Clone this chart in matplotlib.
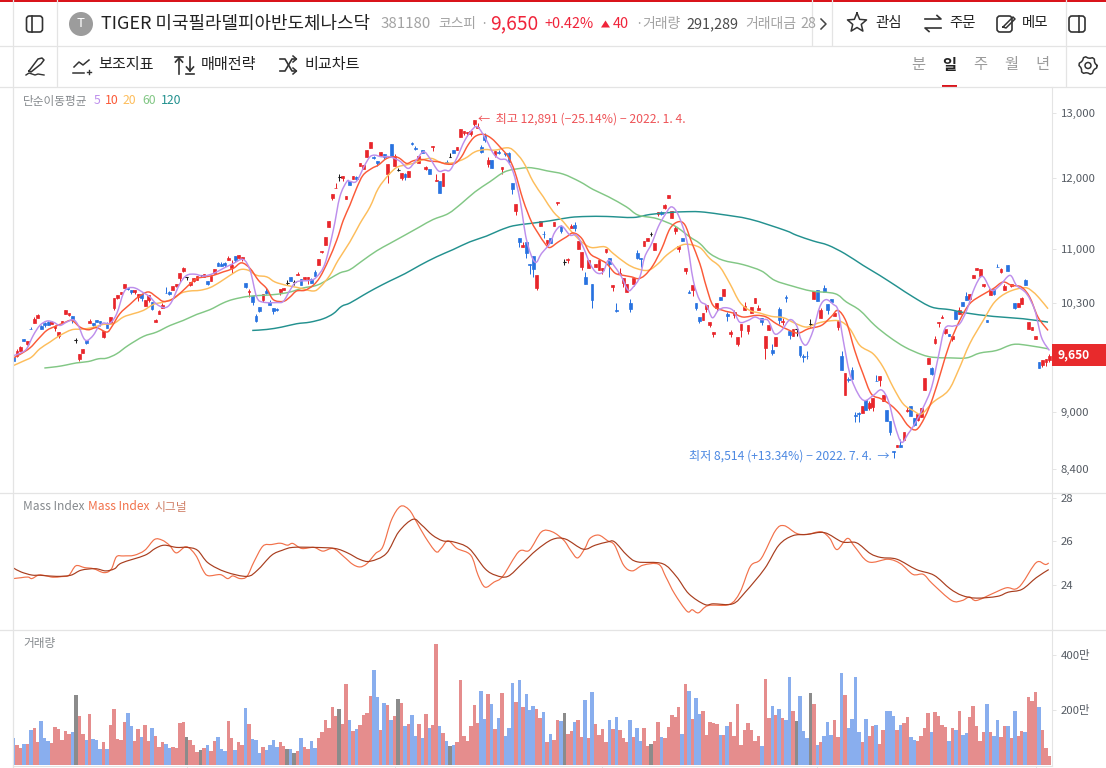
"""Daily candle chart of TIGER ETF with moving averages, Mass Index and volume panes."""
import numpy as np
import matplotlib
matplotlib.use("Agg")
import matplotlib.pyplot as plt
from matplotlib.patches import Circle, Rectangle, FancyBboxPatch, Polygon, PathPatch
from matplotlib.path import Path

plt.rcParams["font.family"] = ["Noto Sans CJK JP", "DejaVu Sans"]

# candles, 300 daily bars, won
opens = [9630,9640,9710,9845,9790,9975,10045,10105,10010,10050,
10060,10035,9985,9880,10050,10155,10145,10125,9840,9605,
9680,9840,10045,10045,10085,10075,9870,10045,10050,10225,
10360,10405,10485,10490,10455,10430,10370,10405,10255,10330,
10310,10055,10160,10235,10425,10435,10465,10515,10610,10705,
10625,10530,10570,10595,10655,10630,10575,10575,10680,10810,
10800,10810,10850,10740,10900,10880,10860,10550,10430,10385,
10125,10250,10330,10450,10310,10235,10215,10440,10465,10555,
10630,10565,10655,10605,10600,10600,10600,10700,10780,10955,
11060,11300,11710,11855,12015,12000,11695,11965,11995,12015,
12180,12130,12310,12450,12315,12255,12330,12360,12060,12515,
12180,12120,12010,12060,12015,12530,12450,12220,12430,12130,
12130,12470,11955,11955,11880,12245,12320,12425,12430,12630,
12690,12680,12670,12820,12760,12470,12635,12210,12270,12350,
12400,12130,12380,12370,11925,11530,11145,11025,11090,10805,
10900,10490,11315,11210,11075,11145,11315,11635,11310,10820,
10850,11290,11335,10995,10765,10630,10750,10535,10760,10715,
10715,10955,10885,10500,10210,10665,10550,10440,10300,10535,
10940,10885,11040,11110,11205,10985,11480,11505,11570,11710,
11430,11245,11005,11150,10705,10430,10455,10290,10115,10085,
10220,10020,9910,10235,10370,10385,10160,9910,10140,9785,
9955,10200,9945,10165,10295,10200,10110,9745,9955,9720,
9770,10220,10060,10375,9945,9890,9965,9770,9640,9650,
10030,10340,10455,10110,10490,10285,10345,10125,10000,9640,
9190,9380,9485,8975,8995,8990,9140,9045,9055,9355,
9360,9130,9030,8900,8580,8620,8645,8700,9010,9065,
8935,8920,8945,9255,9555,9500,9800,10045,10110,9925,
9905,9845,10195,10150,10305,10380,10350,10615,10715,10645,
10510,10085,10400,10470,10765,10695,10465,10785,10510,10295,
10240,10280,10585,9975,9955,9845,9580,9545,9580,9600]
closes = [9590,9710,9750,9825,9830,9970,10095,10140,9975,10015,
10015,10055,10005,9930,10075,10200,10170,10080,9840,9670,
9730,9805,10075,10025,10060,10050,9945,9980,10120,10360,
10400,10430,10540,10470,10440,10465,10415,10360,10330,10400,
10220,10080,10190,10275,10420,10405,10515,10540,10685,10745,
10625,10565,10610,10640,10655,10665,10540,10635,10735,10770,
10770,10785,10880,10780,10850,10920,10895,10500,10450,10310,
10075,10195,10415,10425,10275,10195,10205,10470,10490,10555,
10570,10565,10665,10525,10630,10630,10555,10640,10860,10980,
11165,11385,11770,11860,12015,12030,11745,11900,12030,11995,
12220,12195,12420,12550,12300,12220,12390,12310,12210,12310,
12330,12120,12080,12015,12105,12520,12445,12330,12380,12170,
12060,12480,11980,11790,12075,12230,12320,12385,12470,12750,
12720,12705,12710,12890,12780,12395,12575,12270,12150,12405,
12385,12160,12360,12240,11835,11625,11100,11060,10945,10785,
10730,10650,11385,11200,11120,11075,11375,11660,11245,10820,
10865,11320,11285,11105,10955,10535,10850,10335,10795,10850,
10740,10995,10795,10525,10195,10680,10620,10535,10220,10620,
10880,10870,11105,11155,11205,11075,11505,11490,11610,11755,
11525,11285,11040,11110,10740,10420,10525,10235,10075,10170,
10270,10060,9935,10295,10330,10475,10125,9930,10180,9870,
10030,10260,10015,10245,10355,10235,10055,9880,10015,9680,
9870,10085,10075,10360,9900,9975,9965,9655,9630,9640,
10030,10445,10320,10200,10440,10210,10305,10170,10065,9475,
9450,9370,9380,8960,8985,9065,9025,9100,9155,9350,
9410,9195,8910,8780,8575,8645,8620,8785,9030,8965,
8865,8980,9045,9390,9620,9440,9850,10060,10115,9975,
9880,9885,10095,10200,10260,10330,10415,10660,10750,10730,
10540,10055,10475,10415,10755,10730,10510,10710,10540,10230,
10300,10360,10530,10055,10000,9880,9505,9600,9610,9650]
highs = [9640,9730,9770,9850,9830,9995,10115,10150,10015,10060,
10070,10065,10015,9930,10075,10200,10170,10125,9855,9670,
9730,9840,10095,10045,10085,10075,9945,10060,10120,10360,
10400,10430,10540,10490,10455,10465,10415,10405,10330,10400,
10310,10090,10200,10295,10495,10445,10515,10540,10685,10760,
10625,10565,10610,10640,10655,10665,10575,10635,10735,10830,
10830,10820,10905,10850,10900,10920,10895,10550,10470,10385,
10150,10250,10415,10490,10330,10235,10225,10470,10490,10585,
10630,10595,10690,10605,10630,10630,10615,10715,10860,10980,
11165,11385,11770,11925,12060,12030,11745,11965,12030,12040,
12220,12195,12430,12550,12330,12255,12400,12360,12210,12515,
12360,12155,12080,12080,12105,12550,12480,12330,12430,12185,
12130,12480,12060,11955,12075,12270,12380,12425,12470,12750,
12720,12705,12710,12891,12835,12495,12680,12310,12270,12405,
12420,12160,12385,12395,11925,11625,11145,11100,11090,10805,
10900,10650,11385,11245,11120,11150,11375,11660,11325,10860,
10880,11345,11365,11105,10955,10700,10850,10535,10795,10850,
10740,10995,10885,10525,10290,10740,10620,10535,10340,10620,
10985,10885,11105,11155,11230,11075,11505,11525,11625,11755,
11525,11310,11040,11150,10740,10465,10525,10290,10115,10170,
10270,10060,9935,10295,10370,10475,10175,9960,10210,9870,
10030,10305,10015,10245,10355,10270,10110,9880,10015,9785,
9870,10240,10110,10390,9945,9975,9965,9770,9670,9700,
10095,10445,10455,10235,10520,10285,10345,10170,10065,9700,
9450,9405,9520,9000,9000,9065,9140,9130,9155,9420,
9410,9195,9030,8900,8580,8645,8715,8785,9060,9065,
8935,8980,9045,9390,9620,9510,9890,10060,10145,9975,
9905,9885,10195,10240,10305,10435,10415,10660,10750,10730,
10540,10085,10475,10470,10805,10750,10540,10785,10540,10295,
10300,10370,10605,10055,10000,9880,9580,9600,9610,9670]
lows = [9585,9630,9710,9825,9775,9970,10045,10105,9975,10000,
10015,10035,9945,9860,10050,10155,10125,10045,9805,9590,
9680,9785,10045,10010,10060,10010,9855,9980,10050,10210,
10350,10405,10485,10455,10405,10415,10320,10320,10255,10310,
10200,10055,10160,10235,10420,10395,10455,10495,10560,10695,
10585,10515,10560,10585,10625,10630,10520,10575,10670,10770,
10770,10765,10850,10680,10830,10880,10840,10490,10370,10275,
10055,10175,10310,10405,10275,10160,10195,10400,10465,10530,
10570,10525,10655,10525,10600,10540,10555,10640,10780,10945,
11060,11300,11680,11855,11965,11960,11695,11900,11995,11970,
12180,12130,12310,12450,12280,12180,12330,12280,11930,12310,
12180,12105,11970,11975,12015,12500,12425,12220,12380,12115,
12060,12410,11955,11790,11880,12220,12320,12385,12430,12630,
12650,12640,12640,12795,12760,12380,12550,12170,12150,12310,
12360,12060,12330,12240,11765,11465,11030,11025,10875,10665,
10630,10455,11315,11145,11050,11075,11315,11610,11220,10785,
10815,11290,11245,10995,10715,10535,10750,10235,10760,10715,
10665,10945,10630,10450,10180,10650,10500,10440,10180,10510,
10860,10760,11040,11110,11175,10985,11460,11465,11550,11710,
11430,11210,10955,11110,10665,10420,10385,10210,10050,10085,
10180,10000,9875,10190,10330,10385,10075,9875,10110,9770,
9875,10200,9910,10165,10295,10200,10015,9615,9955,9655,
9770,10030,10015,10310,9850,9890,9890,9635,9575,9615,
10000,10340,10320,10110,10440,10150,10305,10125,9955,9475,
9190,9340,9380,8890,8890,8990,9025,9025,9010,9350,
9295,9130,8900,8755,8514,8620,8620,8700,9000,8965,
8850,8900,8945,9255,9555,9420,9785,10000,10110,9905,
9880,9825,10095,10150,10260,10330,10350,10615,10715,10630,
10495,10055,10400,10390,10755,10675,10465,10710,10495,10220,
10240,10280,10530,9975,9955,9845,9505,9520,9530,9580]

# volume in units of 만 shares
volumes = [98,72,62,76,76,126,135,84,160,98,
86,80,138,131,91,124,113,120,255,177,
113,91,185,95,91,58,84,58,145,204,
95,91,156,189,142,87,131,102,145,87,
135,105,65,84,76,62,65,62,153,156,
102,91,73,47,55,62,73,51,87,102,
58,51,160,98,55,84,73,207,149,95,
91,44,65,55,73,91,65,84,69,58,
58,44,51,98,65,58,87,62,98,120,
164,135,211,178,204,149,295,164,124,131,
145,182,189,251,345,247,127,225,218,164,
178,240,225,142,149,182,105,149,98,185,
135,145,440,142,116,87,69,73,84,309,
105,87,142,218,153,269,167,258,222,131,
171,262,105,135,298,229,309,211,258,200,
215,204,171,193,84,113,90,164,160,189,
113,124,156,164,102,236,98,265,149,109,
131,84,164,131,175,127,98,84,164,102,
135,87,135,69,76,87,156,102,98,138,
182,175,211,113,295,269,167,244,185,196,
109,156,153,149,109,109,142,156,105,222,
73,127,153,127,87,105,69,313,171,215,
182,204,171,164,320,196,160,251,124,98,
262,222,73,84,105,156,109,164,102,335,
255,135,167,320,120,84,167,105,142,145,
76,127,196,196,178,127,145,153,175,102,
91,87,105,135,189,120,193,178,145,138,
87,135,127,196,109,116,175,215,142,87,
120,222,120,105,164,102,142,142,98,196,
105,124,120,247,233,265,211,127,62,33]

# moving averages, read at bar positions
ma5_x = [0,1.9,3.8,5.7,7.6,9.6,11.5,13.4,15.3,17.3,18.7,20.2,21.3,23,24.5,25.9,27.9,29.8,31.7,33.1,35.1,37.5,39.4,41.3,43.7,45.6,48,50,52.4,54.8,57.7,60.5,63.4,66.3,68.3,70.2,72.1,76,77.9,79.8,81.7,85.6,87.5,89.9,92.3,94.2,96.2,
97.1,99,101.4,102.9,104.3,106.2,108.6,111.5,113.9,115.9,118.3,120.2,122.6,124.5,126,127.9,130.3,132.7,134.1,136.5,138.5,140.4,142.3,144.2,146.2,148.1,150.5,152.4,154.8,156.3,158.2,160.6,162.5,164.4,166.4,168.3,170.2,171.7,173.6,175.5,177.4,178.9,180.8,182.2,184.2,186.1,188,189.9,191.9,194.3,196.2,198.1,
200,201.7,203.4,205.3,207.7,209.6,212,214,215.9,217.8,219.7,221.7,224.1,226,227.4,228.9,230.8,232.7,234.5,236.6,238,239.5,241.4,243.8,245.7,248.1,250.5,252.5,254.4,256.3,258.2,260.1,262.6,265,266.9,268.8,271.2,273.1,275.1,277.5,279.7,282.3,284.7,287.6,289.5,292.4,294.8,296.7,299]
ma5 = [9650,9678,9731,9892,10014,10068,10055,10014,10055,10084,10014,9863,9831,9892,9994,10043,10043,10160,10415,10485,10485,10425,10370,10280,10235,10305,10540,10650,10665,10640,10675,10740,10805,10860,10716,10370,10305,10300,10315,10456,10565,10585,10630,10805,11257,11730,11950,
11955,11955,12195,12320,12345,12320,12320,12255,12145,12245,12395,12295,12110,12120,12120,12295,12575,12755,12775,12575,12370,12285,12270,12095,11681,11120,10825,10940,11075,11235,11315,11190,11190,11030,10805,10685,10695,10849,10760,10630,10456,10500,10630,10895,11075,11305,11468,11585,11468,11120,10585,10328,
10265,10110,10201,10235,10201,10055,10076,10118,10085,10076,9912,9953,10085,10015,9831,9780,9953,10243,10337,10277,10201,9831,9437,9206,9131,9187,9252,9131,8855,8675,8765,8873,9056,9282,9630,9973,10006,10035,10201,10499,10637,10456,10520,10650,10520,10413,10201,9870,9711]

ma10_x = [0,1.9,4.8,7.2,9.6,12,14.4,16.8,19.2,21.6,24,26.9,28.3,30.7,33.6,36,38.9,41.3,43.2,45.6,48.5,50.5,52.9,55.3,57.7,60.5,63.4,65.8,68.3,70.7,73.1,75,77.9,79.8,81.7,84.1,86.5,88.5,90.9,93.3,95.2,97.1,
99,100.9,103.4,105.3,107.7,110.1,111.5,113.5,115.4,117.8,120.2,122.6,125,127.4,129.3,131.2,133.2,135.6,138,140.4,142.8,144.7,147.1,149.5,151.5,153.4,154.8,157.2,159.6,161.6,164,166.4,168.8,171.2,173.6,176,178.4,180.3,182.2,184.6,187.1,189.5,191.9,193.8,195.7,198.1,
200,201.9,204.8,207.7,210.6,214.5,217.3,220.2,223.6,226.5,229.4,233.2,236.1,238,240.4,242.8,245.2,247.6,250.5,253.4,255.8,258.2,260.6,263,265.4,267.8,270.2,273.1,276,279.4,282.8,285.6,288.1,290.9,293.3,295.7,298.6]
ma10 = [9624,9665,9743,9851,9953,10002,10043,10076,9994,9961,9986,9933,9994,10160,10277,10370,10435,10370,10315,10336,10435,10520,10607,10630,10650,10695,10740,10815,10740,10585,10477,10336,10315,10370,10447,10456,10520,10630,10849,11120,11397,11610,
11850,12045,12145,12195,12295,12320,12295,12220,12260,12280,12255,12245,12210,12220,12320,12500,12630,12665,12600,12470,12320,12095,11681,11375,11210,11075,11020,11095,11165,11220,11145,10940,10870,10805,10680,10650,10630,10607,10650,10782,11005,11280,11375,11330,11095,10805,
10499,10265,10201,10168,10118,10139,10118,10035,9961,9920,9973,10015,10126,10201,10055,9711,9437,9206,9150,9075,8982,8855,8811,8945,9168,9475,9791,10076,10285,10392,10477,10563,10520,10499,10370,10118,9953]

ma20_x = [0,2.8,5.2,7.6,10.5,13.4,16.8,19.7,22.6,25.9,28.8,31.7,34.6,37.5,40.4,43.2,46.1,48.5,50.9,53.8,56.7,59.6,62.5,65.4,67.8,70.2,73.1,75.5,78.8,82.2,86.5,88.5,91.3,93.7,97.1,
100,102.9,105.3,108.2,110.6,113,115.4,117.8,120.7,123.6,126.9,130.3,133.2,136.1,139,142.3,144.2,147.1,150,152.9,155.8,158.7,161.1,164,166.8,170.7,173.1,176.9,179.8,183.2,186.1,188.5,191.9,194.3,198.1,
201,203.9,206.8,209.6,212.5,215.4,218.8,222.2,225.5,228.9,232.2,235.1,238.5,241.4,244.3,248.1,251,253.9,256.8,259.7,262.1,265.4,269.8,272.7,276,279.9,283.2,287.1,291.9,294.3,296.2,298.6]
ma20 = [9533,9584,9632,9731,9811,9892,9961,9969,9986,10027,10035,10118,10160,10201,10277,10305,10349,10422,10447,10456,10490,10563,10650,10725,10716,10650,10630,10563,10520,10490,10447,10499,10650,10849,11097,
11350,11585,11850,12045,12160,12195,12220,12270,12295,12230,12230,12295,12395,12430,12421,12457,12421,12245,11948,11730,11515,11375,11235,11097,11020,11030,10940,10805,10740,10716,10805,10917,11030,11065,11020,
10871,10760,10540,10307,10201,10168,10126,10110,10043,9994,10043,10068,10068,9973,9771,9672,9514,9282,9094,9019,8982,9112,9244,9475,9791,10076,10307,10434,10490,10434,10349,10222]

ma60_x = [8.9,12.5,15.3,18.2,21.6,24.5,26.9,29.8,33.1,37.5,41.3,45.2,49,52.9,56.7,60.5,63.4,67.8,72.1,76,79.8,83.6,87.5,91.3,94.2,97.1,
100.9,104.8,108.6,113,117.3,121.1,125.5,129.3,133.2,137.5,141.8,146.2,149.5,153.9,158.7,163.5,167.3,171.7,176.9,180.3,185.6,190.9,195.2,198.1,
201,204.8,210.6,215.9,219.7,225,230.3,237.1,240.4,244.3,248.6,252.9,257.3,262.1,265.4,270.3,275.1,278.9,283.7,288.5,292.9,298.6]
ma60 = [9504,9520,9540,9564,9580,9612,9620,9672,9771,9880,9933,10014,10076,10151,10210,10294,10340,10379,10392,10405,10434,10486,10520,10607,10682,10725,
10849,10975,11075,11190,11305,11406,11490,11633,11800,11948,12095,12145,12155,12110,12060,11948,11835,11730,11585,11468,11420,11315,11165,11075,
10939,10849,10791,10707,10585,10508,10447,10413,10307,10201,10015,9870,9751,9663,9630,9623,9623,9680,9711,9783,9771,9731]

ma120_x = [68.9,73.1,77.4,81.7,85.6,89.4,92.3,94.7,97.1,100.9,104.3,108.6,113,117.3,122.1,126.9,131.7,136.5,140.4,144.2,149,154.8,160.6,165.4,171.2,178.9,183.7,189.5,193.3,198.1,204,212.6,
222.6,226,230.8,235.1,239.9,245.2,250,254.9,259.7,265,270.3,275.1,282.8,291.4,298.6]
ma120 = [9953,9965,9994,10035,10055,10097,10160,10252,10294,10392,10477,10576,10672,10782,10895,10993,11097,11176,11257,11318,11350,11388,11435,11449,11449,11435,11477,11505,11515,11515,11480,11410,
11257,11188,11110,11052,10939,10782,10650,10508,10370,10243,10210,10168,10126,10097,10055]

# Mass Index and its signal
mass_x = [0,2.2,4.2,5.3,7.3,9.3,11.4,13.9,16,18,20.5,23.1,26.1,28.2,29.7,31.7,34.8,37.9,40.7,42.9,45,47,49.9,52.6,54.7,56.2,59.7,61.8,63.3,65.4,67.4,69.4,72,74.5,77,79.1,80.6,83.2,86.7,89.3,92.3,95.4,97.9,100,102,104.5,106.6,109.1,111.7,114.2,116.3,118.8,121.9,123.4,125.4,128,132,134.1,136.1,138.7,141.2,145.8,148.9,152.4,155.5,
158.8,160.8,162.8,164.9,166.4,168.9,171.5,173.5,176.1,178.6,181.7,186.2,188.3,190.8,194.4,195.9,197.7,200.5,206.6,209.7,212.7,215.8,219.9,222.4,226,229,233.1,235.6,237.7,240.7,242.8,246.8,252.4,256,259.6,262.6,265.2,270.8,273.8,275.9,277.9,282.5,286.6,289.1,291.1,295.2,297.8,298.8]
mass = [24.31,24.35,24.38,24.31,24.47,24.44,24.37,24.40,24.46,24.89,24.81,24.76,24.58,24.73,25.30,25.34,25.37,25.60,26.09,26.06,25.83,25.48,25.76,25.37,24.69,24.44,24.49,24.31,24.43,24.31,24.41,25.07,25.79,25.86,25.92,25.83,25.91,25.68,25.73,25.56,25.68,25.30,24.96,24.84,24.99,25.45,25.76,26.98,27.60,27.44,26.90,26.21,25.54,25.68,26.03,25.68,25.37,24.46,23.92,24.15,24.41,25.53,25.60,26.44,26.44,
26.06,25.60,25.25,25.68,26.14,26.29,26.03,25.83,24.92,24.66,24.92,24.96,24.38,23.62,22.82,22.89,22.75,23.08,23.13,23.69,24.87,25.22,26.49,26.72,26.37,26.32,26.44,26.14,25.63,26.14,25.76,25.07,25.19,24.99,24.50,24.50,24.08,23.31,23.31,23.47,23.31,23.62,23.89,23.83,24.08,25.04,24.95,25.02]

signal_x = [0,2.2,5.3,7.8,12.4,16.5,19.5,23.6,26.6,29.2,31.2,37.9,40.9,43.5,47,50.1,53.1,56.2,61.3,67.4,70.4,74.5,77.6,80.6,86.7,92.8,96.4,100,103,107.6,111.2,115.3,117.8,120.9,123.9,127,131.5,136.1,139.2,142.7,146.8,150.9,155.5,
159.3,164.4,167.9,171.5,173.5,177.1,180.1,187.3,191.3,194.9,199.5,202,207.6,211.2,216.8,220.9,224.9,229,234.1,239.2,243.3,247.3,250.4,255,260.6,265.7,270.3,273.8,277.9,284,287.1,291.1,295.2,298.8]
signal = [24.79,24.61,24.47,24.46,24.41,24.46,24.69,24.76,24.66,24.76,25.02,25.37,25.68,25.83,25.73,25.73,25.60,25.02,24.61,24.41,24.69,25.37,25.60,25.73,25.73,25.68,25.48,25.18,25.10,25.45,26.44,27.01,26.75,26.29,26.03,25.98,25.68,24.76,24.46,24.41,24.99,25.60,26.09,
26.11,25.65,25.83,25.98,25.98,25.37,25.07,24.99,24.41,23.62,23.13,23.16,23.16,23.69,24.76,25.83,26.26,26.32,26.40,25.98,25.94,25.45,25.27,25.19,24.72,24.46,23.85,23.54,23.42,23.50,23.69,23.82,24.35,24.72]

price_ticks = [13000, 12000, 11000, 10300, 9000, 8400]
mass_ticks = [24, 26, 28]
volume_ticks = [200, 400]
date_ticks = [50, 110, 170, 232, 295]

RED, BLUE, BLACK = "#e8262b", "#2872e0", "#1c1c1c"
VOL_RED, VOL_BLUE, VOL_GRAY = "#e58d8d", "#89aeee", "#8b8b8b"
LINE = "#e4e4e4"
TICK_TEXT = "#555b63"

W, H = 1106, 768
fig = plt.figure(figsize=(W / 100, H / 100), dpi=100, facecolor="white")


def pane(top, bottom):
    # panes share the same horizontal bar scale, positions given in pixels
    ax = fig.add_axes([13 / W, 1 - bottom / H, (1051.5 - 13) / W, (bottom - top) / H])
    ax.set_xlim(-0.14, 299.6)
    for side in ["top", "left", "bottom"]:
        ax.spines[side].set_visible(False)
    ax.spines["right"].set_color(LINE)
    ax.yaxis.tick_right()
    ax.tick_params(axis="y", length=3, width=0.7, color=LINE, labelcolor=TICK_TEXT, labelsize=8.2, pad=3.5)
    ax.set_xticks([])
    return ax


def smooth_line(ax, xs, ys, color, lw, zorder):
    # draw knots as a Catmull-Rom curve, the chart itself draws spline lines
    p = np.column_stack([xs, ys]).astype(float)
    prev = np.vstack([p[0], p[:-1]])
    nxt = np.vstack([p[1:], p[-1]])
    tang = (nxt - prev) / 6
    verts = [p[0]]
    codes = [Path.MOVETO]
    for i in range(len(p) - 1):
        verts += [p[i] + tang[i], p[i + 1] - tang[i + 1], p[i + 1]]
        codes += [Path.CURVE4] * 3
    ax.add_patch(PathPatch(Path(verts, codes), fc="none", ec=color, lw=lw, zorder=zorder))


x = np.arange(len(closes))
opens_a, closes_a = np.array(opens), np.array(closes)
colors = np.where(closes_a > opens_a, RED, np.where(closes_a < opens_a, BLUE, BLACK))

# price pane
ax1 = pane(87, 492.5)
ax1.set_yscale("log")
ax1.set_ylim(8156, 13423)
ax1.set_yticks(price_ticks)
ax1.set_yticklabels([f"{t:,}" for t in price_ticks])
ax1.minorticks_off()
ax1.tick_params(axis="y", which="minor", length=0)
ax1.vlines(x, lows, highs, colors=colors, lw=0.72, zorder=2)
ax1.bar(x, np.abs(closes_a - opens_a), bottom=np.minimum(opens_a, closes_a), width=0.8,
        color=colors, edgecolor=colors, lw=0.5, zorder=2)
doji = closes_a == opens_a
ax1.hlines(closes_a[doji], x[doji] - 0.42, x[doji] + 0.42, colors=BLACK, lw=0.8, zorder=2)
ma_styles = [(ma120_x, ma120, "#23918f"), (ma60_x, ma60, "#82c785"), (ma20_x, ma20, "#fdbd5b"),
             (ma10_x, ma10, "#fb5a38"), (ma5_x, ma5, "#bd8fec")]
for mx, my, c in ma_styles:
    smooth_line(ax1, mx, my, c, 1.05, 3)

hi_i = int(np.argmax(highs))
lo_i = int(np.argmin(lows))
ax1.annotate(f"←  최고 {highs[hi_i]:,} (−25.14%) − 2022. 1. 4.", xy=(hi_i, highs[hi_i]), xytext=(2.5, 0.6),
             textcoords="offset points", color="#ee5458", fontsize=8.75, va="center", ha="left")
ax1.annotate(f"최저 {lows[lo_i]:,} (+13.34%) − 2022. 7. 4.  →", xy=(lo_i, lows[lo_i]), xytext=(-3, 1),
             textcoords="offset points", color="#4d89e2", fontsize=8.75, va="center", ha="right")

# Mass Index pane
ax2 = pane(492.5, 629.5)
ax2.set_ylim(21.99, 28.23)
ax2.set_yticks(mass_ticks)
smooth_line(ax2, mass_x, mass, "#f2714a", 0.85, 2)
smooth_line(ax2, signal_x, signal, "#a83d1e", 0.85, 3)

# volume pane
ax3 = pane(629.5, 766)
ax3.set_ylim(-3.6, 491)
ax3.set_yticks(volume_ticks)
ax3.set_yticklabels([f"{t}만" for t in volume_ticks])
vol_colors = np.where(closes_a > opens_a, VOL_RED, np.where(closes_a < opens_a, VOL_BLUE, VOL_GRAY))
ax3.bar(x, volumes, width=1.0, color=vol_colors, lw=0, snap=True)
ax3.set_xticks(date_ticks)
ax3.set_xticklabels([])
ax3.tick_params(axis="x", length=2, width=0.7, color=LINE)
ax3.spines["bottom"].set_visible(True)
ax3.spines["bottom"].set_color(LINE)

# header and toolbar, drawn in pixel coordinates
ui = fig.add_axes([0, 0, 1, 1], facecolor="none", zorder=10)
ui.set_xlim(0, W)
ui.set_ylim(H, 0)
ui.axis("off")

ui.add_patch(Rectangle((0, 0), W, 1.5, color="#d9141b", lw=0))
for y in [45.5, 86.5, 492.5, 629.5]:
    ui.plot([0, W], [y, y], color=LINE, lw=0.9)
ui.plot([12.5, 12.5], [0, 768], color=LINE, lw=0.9)
ui.plot([56.5, 56.5], [0, 86], color=LINE, lw=0.9)
ui.plot([812, 812], [0, 45], color=LINE, lw=0.9)
ui.plot([832, 832], [0, 45], color=LINE, lw=0.9)
ui.plot([1065.5, 1065.5], [0, 86], color=LINE, lw=0.9)

ui.add_patch(Circle((81, 24), 12, color="#9c9c9c", lw=0))
ui.text(81, 23.5, "T", color="white", fontsize=9.5, ha="center", va="center")


def label(px, py, s, color="#222222", size=9.5, weight="normal", ha="left"):
    ui.text(px, py, s, color=color, fontsize=size, fontweight=weight, ha=ha, va="center")


label(101, 23.5, "TIGER 미국필라델피아반도체나스닥", size=12.95)
label(381, 24, "381180", "#a3a3a3", 10.8)
label(438, 24, "코스피", "#a3a3a3", 9.9)
label(480, 24, "·", "#a3a3a3", 9.6)
label(490, 23.5, "9,650", "#f0243a", 13.8)
label(544, 24, "+0.42%", "#f0243a", 10.4)
ui.add_patch(Polygon([[601, 27.5], [610, 27.5], [605.5, 20.5]], color="#f0243a", lw=0))
label(613, 24, "40", "#f0243a", 10.4)
label(635, 24, "·", "#a3a3a3", 9.6)
label(642, 24, "거래량", "#a3a3a3", 10)
label(686, 24, "291,289", "#4b4b4b", 10.4)
label(745, 24, "거래대금", "#a3a3a3", 10)
ui.text(800, 24, "28", color="#a3a3a3", fontsize=10.4, va="center", clip_on=True,
        clip_path=Rectangle((0, 0), 811, H, transform=ui.transData))
ui.plot([821, 826, 821], [19, 24, 29], color="#444444", lw=1.1)

label(875, 23, "관심", size=10.4)
label(949, 23, "주문", size=10.4)
label(1022, 23, "메모", size=10.4)
label(98, 65, "보조지표", size=10.9)
label(201, 65, "매매전략", size=10.9)
label(305, 65, "비교차트", size=10.9)
for px, s in zip([918, 980, 1011, 1042], ["분", "주", "월", "년"]):
    label(px, 65, s, "#9b9b9b", 11, ha="center")
label(949, 65, "일", "#222222", 11, "bold", "center")
ui.add_patch(Rectangle((941.5, 85), 15.5, 2, color="#d9141b", lw=0))

# icons
ICON = "#333333"
for bx in [26.5, 1069]:
    ui.add_patch(FancyBboxPatch((bx, 16), 16, 16, boxstyle="round,pad=0,rounding_size=3", fc="none", ec=ICON, lw=1.2))
ui.plot([32, 32], [16, 32], color=ICON, lw=1.2)
ui.plot([1079, 1079], [16, 32], color=ICON, lw=1.2)
star_t = np.linspace(-np.pi / 2, 1.5 * np.pi, 11)
star_r = np.array([10, 4.5] * 5 + [10])
ui.plot(857 + star_r * np.cos(star_t), 23 + star_r * np.sin(star_t), color=ICON, lw=1.1)
ui.plot([925, 941, 937], [19, 19, 15.5], color=ICON, lw=1.2)
ui.plot([941, 925, 929], [28, 28, 31.5], color=ICON, lw=1.2)
ui.add_patch(FancyBboxPatch((997, 16), 15, 16, boxstyle="round,pad=0,rounding_size=3", fc="none", ec=ICON, lw=1.2))
ui.plot([1003, 1013, 1015, 1006, 1003], [27, 17, 19, 28, 27], color=ICON, lw=1.1, zorder=3)
ui.plot([29, 38, 42, 44, 41, 31, 29], [71, 59, 58, 60, 64, 72, 71], color=ICON, lw=1.1)
ui.plot([26, 29, 35, 38, 44], [75, 73, 75, 74, 75], color=ICON, lw=1)
ui.plot([74, 79, 83, 89], [67, 62, 65, 60], color=ICON, lw=1.1)
ui.plot([73, 84], [73, 73], color=ICON, lw=1.1)
ui.plot([87, 91], [72, 72], color=ICON, lw=1)
ui.plot([89, 89], [70, 74], color=ICON, lw=1)
ui.plot([179, 179], [58, 74], color=ICON, lw=1.2)
ui.plot([175.5, 179, 182.5], [62, 58, 62], color=ICON, lw=1.2)
ui.plot([190, 190], [57, 71], color=ICON, lw=1.2)
ui.plot([186.5, 190, 193.5], [67, 71, 67], color=ICON, lw=1.2)
ui.plot([186, 194], [74, 74], color=ICON, lw=1.2)
ui.plot([175, 183], [57, 57], color=ICON, lw=1.2)
ui.plot([280, 285, 292, 296], [59, 59, 71, 71], color=ICON, lw=1.2)
ui.plot([280, 285, 292, 296], [71, 71, 59, 59], color=ICON, lw=1.2)
ui.plot([293, 296.5, 293], [56, 59, 62], color=ICON, lw=1.1)
ui.plot([293, 296.5, 293], [68, 71, 74], color=ICON, lw=1.1)
gear_t = np.linspace(0, 2 * np.pi, 25)
gear_r = np.where(np.arange(25) % 4 < 2, 9, 7.5)
ui.plot(1088 + gear_r * np.cos(gear_t), 65.5 + gear_r * np.sin(gear_t), color=ICON, lw=1.1)
ui.add_patch(Circle((1088, 65.5), 3, fc="none", ec=ICON, lw=1.1))

# pane legends
LEGEND = "#85898d"
label(23, 101, "단순이동평균", LEGEND, 8.4)
for px, s, c in [(94, "5", "#bd8fec"), (105, "10", "#fb5a38"), (123, "20", "#fdbd5b"), (142, "60", "#82c785"), (161, "120", "#23918f")]:
    label(px, 101, s, c, 8.8)
label(23, 507, "Mass Index", LEGEND, 8.6)
label(88, 507, "Mass Index", "#f2714a", 8.6)
label(154, 507, "시그널", "#cf7f66", 8.5)
label(23, 643, "거래량", LEGEND, 8.4)

# current price tag
ui.add_patch(Rectangle((1052, 344), 54, 22, color="#e82a2c", lw=0))
label(1058, 355, f"{closes[-1]:,}", "white", 8.6, "bold")

fig.savefig("out.png", dpi=100, facecolor="white")
